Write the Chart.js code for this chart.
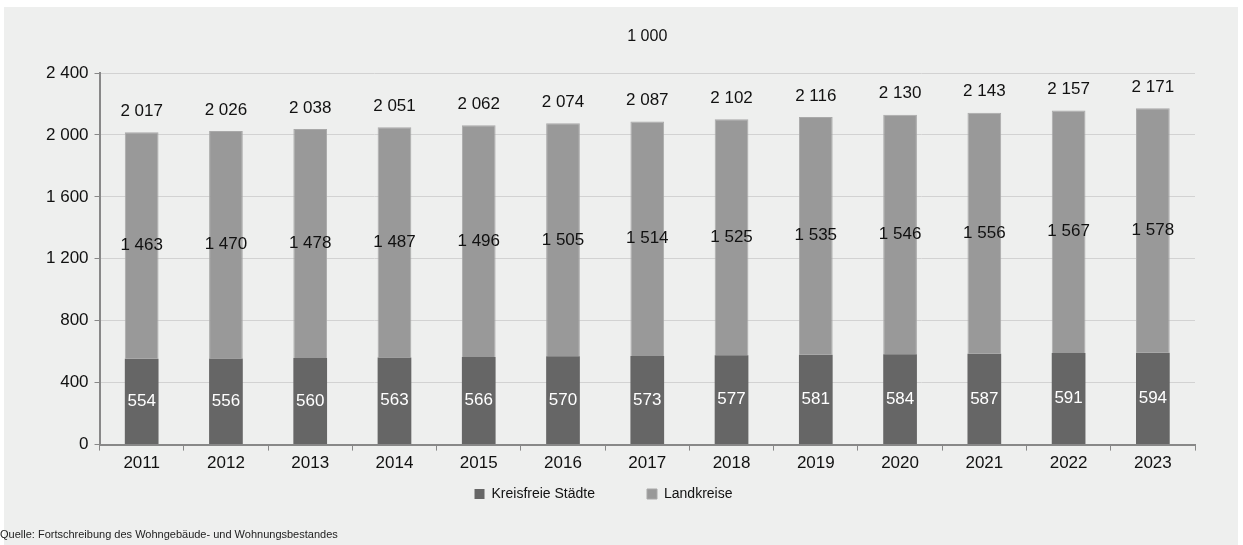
<!DOCTYPE html>
<html>
<head>
<meta charset="utf-8">
<script src="https://cdn.jsdelivr.net/npm/chart.js@4/dist/chart.umd.min.js"></script>
<style>
  body { margin: 0; background: #ffffff; }
  #wrap { position: relative; width: 1243px; height: 545px; overflow: hidden; }
  #bg { position: absolute; left: 4px; top: 7px; width: 1234px; height: 538px; background: #eeefee; }
  #wrap canvas { position: absolute; left: 0; top: 0; }
  #source { position: absolute; left: 0; top: 528px; font: 11px "Liberation Sans", Arial, sans-serif; color: #222; }
</style>
</head>
<body>
<div id="wrap">
  <div id="bg"></div>
  <canvas id="chart" width="1243" height="545"></canvas>
  <div id="source">Quelle: Fortschreibung des Wohngebäude- und Wohnungsbestandes</div>
</div>
<script>
const years = ['2011', '2012', '2013', '2014', '2015', '2016', '2017', '2018', '2019', '2020', '2021', '2022', '2023'];
const kreisfreie = [554, 556, 560, 563, 566, 570, 573, 577, 581, 584, 587, 591, 594];
const landkreise = [1463, 1470, 1478, 1487, 1496, 1505, 1514, 1525, 1535, 1546, 1556, 1567, 1578];
const totals = [2017, 2026, 2038, 2051, 2062, 2074, 2087, 2102, 2116, 2130, 2143, 2157, 2171];
const yTicks = [0, 400, 800, 1200, 1600, 2000, 2400];
const unitLabel = '1 000';

const FONT = '"Liberation Sans", Arial, sans-serif';

function fmt(n) {
    return String(n).replace(/\B(?=(\d{3})+(?!\d))/g, ' ');
}

// unit label, value labels inside the segments and totals above the bars
const labelPlugin = {
    id: 'labels',
    afterDatasetsDraw(chart) {
        const ctx = chart.ctx;
        const area = chart.chartArea;
        ctx.save();
        ctx.textAlign = 'center';
        ctx.textBaseline = 'middle';

        ctx.font = '16px ' + FONT;
        ctx.fillStyle = '#111111';
        ctx.fillText(unitLabel, (area.left + area.right) / 2, 37);

        ctx.font = '17px ' + FONT;
        chart.data.datasets.forEach((ds, i) => {
            const meta = chart.getDatasetMeta(i);
            meta.data.forEach((bar, j) => {
                ctx.fillStyle = i === 0 ? '#ffffff' : '#111111';
                ctx.fillText(fmt(ds.data[j]), bar.x, (bar.y + bar.base) / 2);
            });
        });
        const top = chart.getDatasetMeta(1);
        ctx.fillStyle = '#111111';
        top.data.forEach((bar, j) => {
            ctx.fillText(fmt(totals[j]), bar.x, bar.y - 21);
        });
        ctx.restore();
    }
};

new Chart(document.getElementById('chart'), {
    type: 'bar',
    data: {
        labels: years,
        datasets: [{
            label: 'Kreisfreie Städte',
            data: kreisfreie,
            backgroundColor: '#666666',
            barPercentage: 0.4,
            categoryPercentage: 1
        }, {
            label: 'Landkreise',
            data: landkreise,
            backgroundColor: '#999999',
            borderColor: '#a9a9a9',
            borderWidth: 1,
            borderSkipped: 'bottom',
            barPercentage: 0.4,
            categoryPercentage: 1
        }]
    },
    options: {
        responsive: false,
        animation: false,
        layout: { padding: { left: 40, right: 48, top: 73, bottom: 34 } },
        scales: {
            x: {
                stacked: true,
                grid: { display: true, drawOnChartArea: false, offset: true, tickLength: 6, color: '#888888' },
                border: { color: '#888888', width: 2 },
                ticks: { color: '#111111', font: { family: FONT, size: 17 }, padding: 3 }
            },
            y: {
                stacked: true,
                min: 0,
                max: 2400,
                afterBuildTicks: axis => { axis.ticks = yTicks.map(v => ({ value: v })); },
                grid: { color: '#d2d2d2', tickColor: '#888888', tickLength: 5 },
                border: { color: '#888888', width: 2 },
                ticks: { color: '#111111', font: { family: FONT, size: 17 }, padding: 6, callback: v => fmt(v) }
            }
        },
        plugins: {
            title: { display: false },
            legend: {
                position: 'bottom',
                labels: {
                    color: '#111111',
                    font: { family: FONT, size: 14 },
                    boxWidth: 10,
                    boxHeight: 10,
                    padding: 10,
                    generateLabels: chart => {
                        const items = Chart.defaults.plugins.legend.labels.generateLabels(chart);
                        items[0].text += '\u2003\u2003\u2003';
                        items[1].text += '\u2003\u2003';
                        return items;
                    }
                }
            },
            tooltip: { enabled: false }
        }
    },
    plugins: [labelPlugin]
});
</script>
</body>
</html>
